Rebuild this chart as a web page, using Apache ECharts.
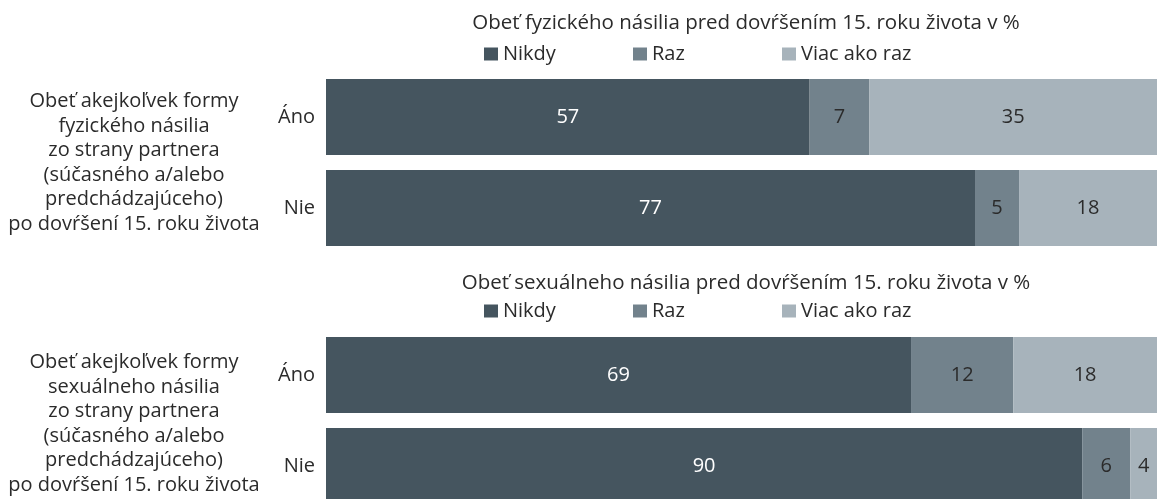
<!DOCTYPE html>
<html>
<head>
<meta charset="utf-8">
<script src="https://cdn.jsdelivr.net/npm/echarts@6/dist/echarts.min.js"></script>
<style>html,body{margin:0;padding:0;background:#fff;overflow:hidden}#c{width:1157px;height:499px}</style>
</head>
<body>
<div id="c"></div>
<script>
const categories = ['Áno', 'Nie'];
const seriesNames = ['Nikdy', 'Raz', 'Viac ako raz'];

const panel1Title = 'Obeť fyzického násilia pred dovŕšením 15. roku života v %';
const panel1Side = 'Obeť akejkoľvek formy\nfyzického násilia\nzo strany partnera\n(súčasného a/alebo\npredchádzajúceho)\npo dovŕšení 15. roku života';
// bar lengths (share, %) as measured, and the printed labels
const p1Nikdy = [58.2, 78.1];
const p1Raz = [7.2, 5.3];
const p1Viac = [34.6, 16.6];
const p1NikdyLbl = [57, 77];
const p1RazLbl = [7, 5];
const p1ViacLbl = [35, 18];

const panel2Title = 'Obeť sexuálneho násilia pred dovŕšením 15. roku života v %';
const panel2Side = 'Obeť akejkoľvek formy\nsexuálneho násilia\nzo strany partnera\n(súčasného a/alebo\npredchádzajúceho)\npo dovŕšení 15. roku života';
const p2Nikdy = [70.4, 91.0];
const p2Raz = [12.3, 5.8];
const p2Viac = [17.3, 3.2];
const p2NikdyLbl = [69, 90];
const p2RazLbl = [12, 6];
const p2ViacLbl = [18, 4];

const colors = ['#45555f', '#72828c', '#a7b3bb'];
const FONT = "'Open Sans', sans-serif";
const FS = 20;
const TXT = '#2b2b2b';

const chart = echarts.init(document.getElementById('c'), null, {renderer: 'canvas'});

function mkSeries(name, data, labels, gi, stack, idx) {
  return {
    type: 'bar', name: name, stack: stack,
    xAxisIndex: gi, yAxisIndex: gi,
    data: data, barWidth: 76,
    itemStyle: {color: colors[idx]},
    label: {
      show: true, position: 'inside',
      fontFamily: FONT, fontSize: FS,
      color: idx === 0 ? '#ffffff' : TXT,
      formatter: p => String(labels[p.dataIndex])
    },
    emphasis: {disabled: true},
    animation: false
  };
}

const gridTops = [71.5, 329.5];
const axisCommonY = gi => ({
  type: 'category', gridIndex: gi, data: categories, inverse: true,
  axisLine: {show: false}, axisTick: {show: false}, splitLine: {show: false},
  axisLabel: {fontFamily: FONT, fontSize: FS, color: TXT, margin: 11}
});
const axisCommonX = gi => ({
  type: 'value', gridIndex: gi, min: 0, max: 100, show: false
});

const legendCommon = (top) => ({
  left: 484, top: top, orient: 'horizontal', padding: 0,
  itemWidth: 14, itemHeight: 13, itemGap: 10,
  icon: 'rect',
  data: seriesNames,
  textStyle: {fontFamily: FONT, fontSize: FS, color: TXT, width: 120, lineHeight: 24},
  selectedMode: false
});

chart.setOption({
  animation: false,
  title: [
    {text: panel1Title, left: 746, top: 11, textAlign: 'center', padding: 0,
     textStyle: {fontFamily: FONT, fontSize: 20.5, fontWeight: 'normal', color: TXT, lineHeight: 24}},
    {text: panel2Title, left: 746, top: 271, textAlign: 'center', padding: 0,
     textStyle: {fontFamily: FONT, fontSize: 20.5, fontWeight: 'normal', color: TXT, lineHeight: 24}}
  ],
  legend: [legendCommon(42), legendCommon(299)],
  grid: [
    {left: 326, right: 0, top: gridTops[0], height: 182, containLabel: false, outerBoundsMode: 'none'},
    {left: 326, right: 0, top: gridTops[1], height: 182, containLabel: false, outerBoundsMode: 'none'}
  ],
  xAxis: [axisCommonX(0), axisCommonX(1)],
  yAxis: [axisCommonY(0), axisCommonY(1)],
  series: [
    mkSeries('Nikdy', p1Nikdy, p1NikdyLbl, 0, 'a', 0),
    mkSeries('Raz', p1Raz, p1RazLbl, 0, 'a', 1),
    mkSeries('Viac ako raz', p1Viac, p1ViacLbl, 0, 'a', 2),
    mkSeries('Nikdy', p2Nikdy, p2NikdyLbl, 1, 'b', 0),
    mkSeries('Raz', p2Raz, p2RazLbl, 1, 'b', 1),
    mkSeries('Viac ako raz', p2Viac, p2ViacLbl, 1, 'b', 2)
  ],
  graphic: [
    {type: 'text', x: 134, y: 163, style: {text: panel1Side, fontFamily: FONT, fontSize: FS, fill: TXT,
      align: 'center', verticalAlign: 'middle', lineHeight: 24.5}},
    {type: 'text', x: 134, y: 424, style: {text: panel2Side, fontFamily: FONT, fontSize: FS, fill: TXT,
      align: 'center', verticalAlign: 'middle', lineHeight: 24.5}}
  ]
});
</script>
</body>
</html>
